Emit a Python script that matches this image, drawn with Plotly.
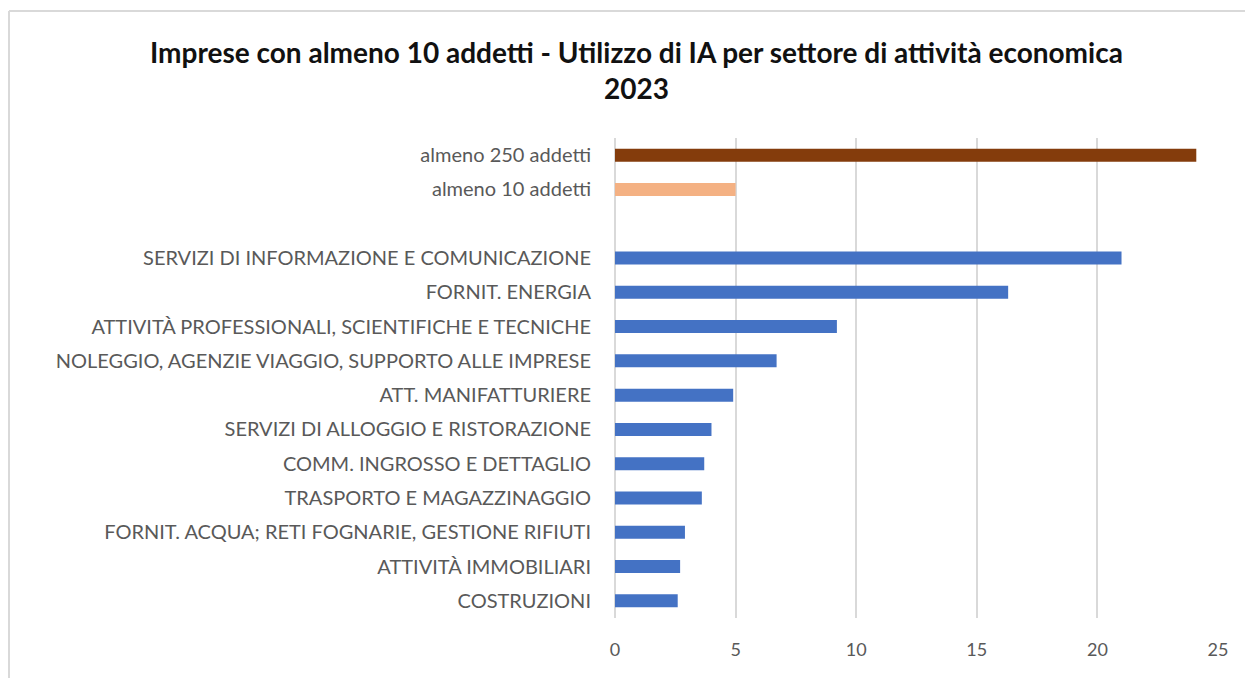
import plotly.graph_objects as go

categories = [
    "almeno 250 addetti",
    "almeno 10 addetti",
    " ",
    "SERVIZI DI INFORMAZIONE E COMUNICAZIONE",
    "FORNIT. ENERGIA",
    "ATTIVITÀ PROFESSIONALI, SCIENTIFICHE E TECNICHE",
    "NOLEGGIO, AGENZIE VIAGGIO, SUPPORTO ALLE IMPRESE",
    "ATT. MANIFATTURIERE",
    "SERVIZI DI ALLOGGIO E RISTORAZIONE",
    "COMM. INGROSSO E DETTAGLIO",
    "TRASPORTO E MAGAZZINAGGIO",
    "FORNIT. ACQUA; RETI FOGNARIE, GESTIONE RIFIUTI",
    "ATTIVITÀ IMMOBILIARI",
    "COSTRUZIONI",
]
values = [24.1, 5.0, None, 21.0, 16.3, 9.2, 6.7, 4.9, 4.0, 3.7, 3.6, 2.9, 2.7, 2.6]
bar_colors = ["#843C0C", "#F4B183", "#4472C4"] + ["#4472C4"] * 11
x_ticks = [0, 5, 10, 15, 20, 25]

title_line1 = "Imprese con almeno 10 addetti - Utilizzo di IA per settore di attività economica"
title_line2 = "2023"

# page has an 8px body margin, so figure coordinates are shifted by 8px
W, H = 1245, 670
L, R, T, B = 607, 35, 130, 60
pw, ph = W - L - R, H - T - B

fig = go.Figure(go.Bar(
    x=values, y=categories, orientation="h",
    marker=dict(color=bar_colors, line=dict(width=0)),
    hoverinfo="x+y",
))

font_family = "Lato, 'Open Sans', sans-serif"
fig.update_layout(
    width=W, height=H,
    margin=dict(l=L, r=R, t=T, b=B, autoexpand=False),
    paper_bgcolor="white", plot_bgcolor="white",
    bargap=0.62,
    showlegend=False,
    font=dict(family=font_family, color="#595959"),
    xaxis=dict(
        range=[0, 25], tickvals=x_ticks, showgrid=True, gridcolor="#D9D9D9", gridwidth=1.5,
        zeroline=True, zerolinecolor="#D9D9D9", zerolinewidth=1.5, showline=False,
        ticks="outside", ticklen=15, tickcolor="rgba(0,0,0,0)",
        tickfont=dict(size=18, color="#595959", family=font_family),
        fixedrange=True,
    ),
    yaxis=dict(
        type="category", categoryorder="array", categoryarray=categories,
        autorange="reversed", showgrid=False, zeroline=False, showline=False,
        ticks="outside", ticklen=19, tickcolor="rgba(0,0,0,0)",
        tickfont=dict(size=20, color="#595959", family=font_family),
        fixedrange=True,
    ),
)

tx = (628 - L) / pw
fig.add_annotation(text="<b>" + title_line1 + "</b>", xref="paper", yref="paper",
                   x=tx, y=(H - B - 44) / ph,
                   xanchor="center", yanchor="middle", showarrow=False,
                   font=dict(size=28, color="#111111", family=font_family))
fig.add_annotation(text="<b>" + title_line2 + "</b>", xref="paper", yref="paper",
                   x=tx, y=(H - B - 80) / ph,
                   xanchor="center", yanchor="middle", showarrow=False,
                   font=dict(size=28, color="#111111", family=font_family))

# outer chart frame (left and top edges visible in the picture)
fig.add_shape(type="line", xref="paper", yref="paper",
              x0=(1 - L) / pw, x1=(1 - L) / pw, y0=(H - B - 700) / ph, y1=(H - B - 3) / ph,
              line=dict(color="#D9D9D9", width=2))
fig.add_shape(type="line", xref="paper", yref="paper",
              x0=(1 - L) / pw, x1=(1300 - L) / pw, y0=(H - B - 3) / ph, y1=(H - B - 3) / ph,
              line=dict(color="#D9D9D9", width=2))

fig.write_html("out.html")
